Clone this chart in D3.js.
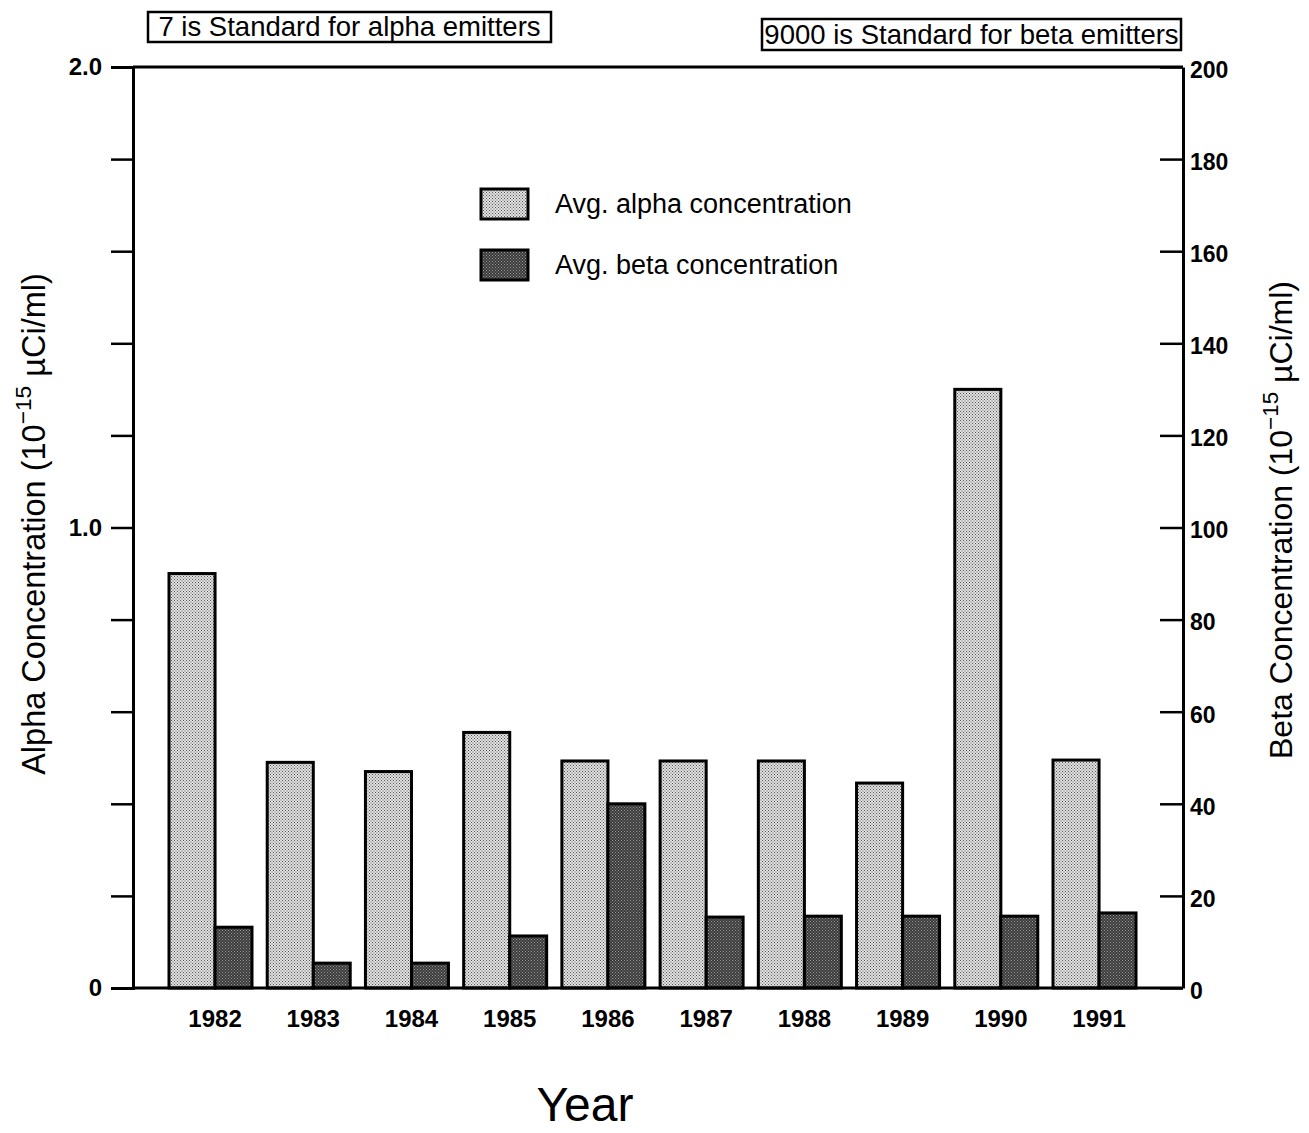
<!DOCTYPE html>
<html><head><meta charset="utf-8">
<script src="https://cdn.jsdelivr.net/npm/d3@7"></script>
<style>body{margin:0;background:#fff}text{font-family:"Liberation Sans",Arial,sans-serif;fill:#000}</style>
</head><body>
<svg id="c" width="1309" height="1133"></svg>
<script>
const years = ["1982","1983","1984","1985","1986","1987","1988","1989","1990","1991"];
const alpha = [0.90,0.49,0.47,0.555,0.493,0.493,0.493,0.445,1.30,0.495];
const beta = [13.2,5.4,5.4,11.3,40.0,15.4,15.6,15.6,15.6,16.3];
const alphaTicks = [0,0.2,0.4,0.6,0.8,1.0,1.2,1.4,1.6,1.8,2.0];
const alphaTickLabels = {"0":"0","1":"1.0","2":"2.0"};
const betaTicks = [0,20,40,60,80,100,120,140,160,180,200];
const legendLabels = ["Avg. alpha concentration","Avg. beta concentration"];
const notes = ["7 is Standard for alpha emitters","9000 is Standard for beta emitters"];

const svg = d3.select("#c");
const L=133, R=1183, T=67, B=988;
const defs = svg.append("defs");
function pat(id,bg,fg){
  const p=defs.append("pattern").attr("id",id).attr("width",3).attr("height",3).attr("patternUnits","userSpaceOnUse");
  p.append("rect").attr("width",3).attr("height",3).attr("fill",bg);
  p.append("rect").attr("x",0).attr("y",0).attr("width",1).attr("height",1).attr("fill",fg);
  p.append("rect").attr("x",1.5).attr("y",1.5).attr("width",1).attr("height",1).attr("fill",fg);
}
pat("pa","#e2e2e2","#555");
pat("pb","#3a3a3a","#999");

const yA = d3.scaleLinear().domain([0,2]).range([B,T]);
const yB = d3.scaleLinear().domain([0,200]).range([B,T]);
const x = d3.scaleBand().domain(years).range([169,1136]).paddingInner(0.155).paddingOuter(0);
const aw = x.bandwidth()*0.555;

const g = svg.append("g");
g.selectAll(".a").data(years).join("rect")
  .attr("x",d=>x(d)).attr("width",aw)
  .attr("y",(d,i)=>yA(alpha[i])).attr("height",(d,i)=>B-yA(alpha[i]))
  .attr("fill","url(#pa)").attr("stroke","#000").attr("stroke-width",3);
g.selectAll(".b").data(years).join("rect")
  .attr("x",d=>x(d)+aw).attr("width",x.bandwidth()-aw)
  .attr("y",(d,i)=>yB(beta[i])).attr("height",(d,i)=>B-yB(beta[i]))
  .attr("fill","url(#pb)").attr("stroke","#000").attr("stroke-width",3);

// left axis
const ax = svg.append("g").attr("transform",`translate(${L},0)`)
  .call(d3.axisLeft(yA).tickValues(alphaTicks).tickSize(22).tickPadding(9)
  .tickFormat(d=>alphaTickLabels[String(+d.toFixed(1))]||""));
ax.select(".domain").attr("stroke-width",3);
ax.selectAll(".tick line").attr("stroke-width",2.5);
ax.selectAll("text").attr("font-size",24).attr("font-weight","bold").attr("font-family","Liberation Sans");

// right axis
const bx = svg.append("g").attr("transform",`translate(${R},0)`)
  .call(d3.axisRight(yB).tickValues(betaTicks).tickSizeInner(-23).tickSizeOuter(0).tickPadding(7));
bx.select(".domain").attr("stroke-width",3);
bx.selectAll(".tick line").attr("stroke-width",2.5);
bx.selectAll("text").attr("font-size",23).attr("font-weight","bold").attr("font-family","Liberation Sans").attr("dy","0.45em");

// frame top and baseline
svg.append("line").attr("x1",L).attr("x2",R).attr("y1",T).attr("y2",T).attr("stroke","#000").attr("stroke-width",3);
svg.append("line").attr("x1",L).attr("x2",R).attr("y1",B).attr("y2",B).attr("stroke","#000").attr("stroke-width",3);

// x labels
svg.selectAll(".xl").data(years).join("text")
  .attr("x",d=>x(d)+aw).attr("y",1027).attr("text-anchor","middle")
  .attr("font-size",24).attr("font-weight","bold").text(d=>d);

// legend
const lg = svg.append("g");
legendLabels.forEach((t,i)=>{
  const yy = 189 + i*61;
  lg.append("rect").attr("x",481).attr("y",yy).attr("width",47).attr("height",30)
    .attr("fill",i?"url(#pb)":"url(#pa)").attr("stroke","#000").attr("stroke-width",3);
  lg.append("text").attr("x",555).attr("y",yy+24).attr("font-size",27).text(t);
});

// notes
const nb = [[148,12,403,30],[762,19,419,31]];
notes.forEach((t,i)=>{
  const [nx,ny,nw,nh]=nb[i];
  svg.append("rect").attr("x",nx).attr("y",ny).attr("width",nw).attr("height",nh)
    .attr("fill","#fff").attr("stroke","#000").attr("stroke-width",2.5);
  svg.append("text").attr("x",nx+nw/2).attr("y",ny+nh-6).attr("text-anchor","middle").attr("font-size",27.5).text(t);
});

// axis titles
function title(xp,yp,label,fs){
  const t = svg.append("text").attr("transform",`translate(${xp},${yp}) rotate(-90)`).attr("text-anchor","middle").attr("font-size",fs);
  t.append("tspan").text(label+" (10");
  t.append("tspan").attr("dy",-14).attr("font-size",fs*0.7).text("−15");
  t.append("tspan").attr("dy",14).text(" µCi/ml)");
}
title(45,524,"Alpha Concentration",32.5);
title(1292,520,"Beta Concentration",32);

svg.append("text").attr("x",585).attr("y",1121).attr("text-anchor","middle").attr("font-size",48).text("Year");
</script>
</body></html>
